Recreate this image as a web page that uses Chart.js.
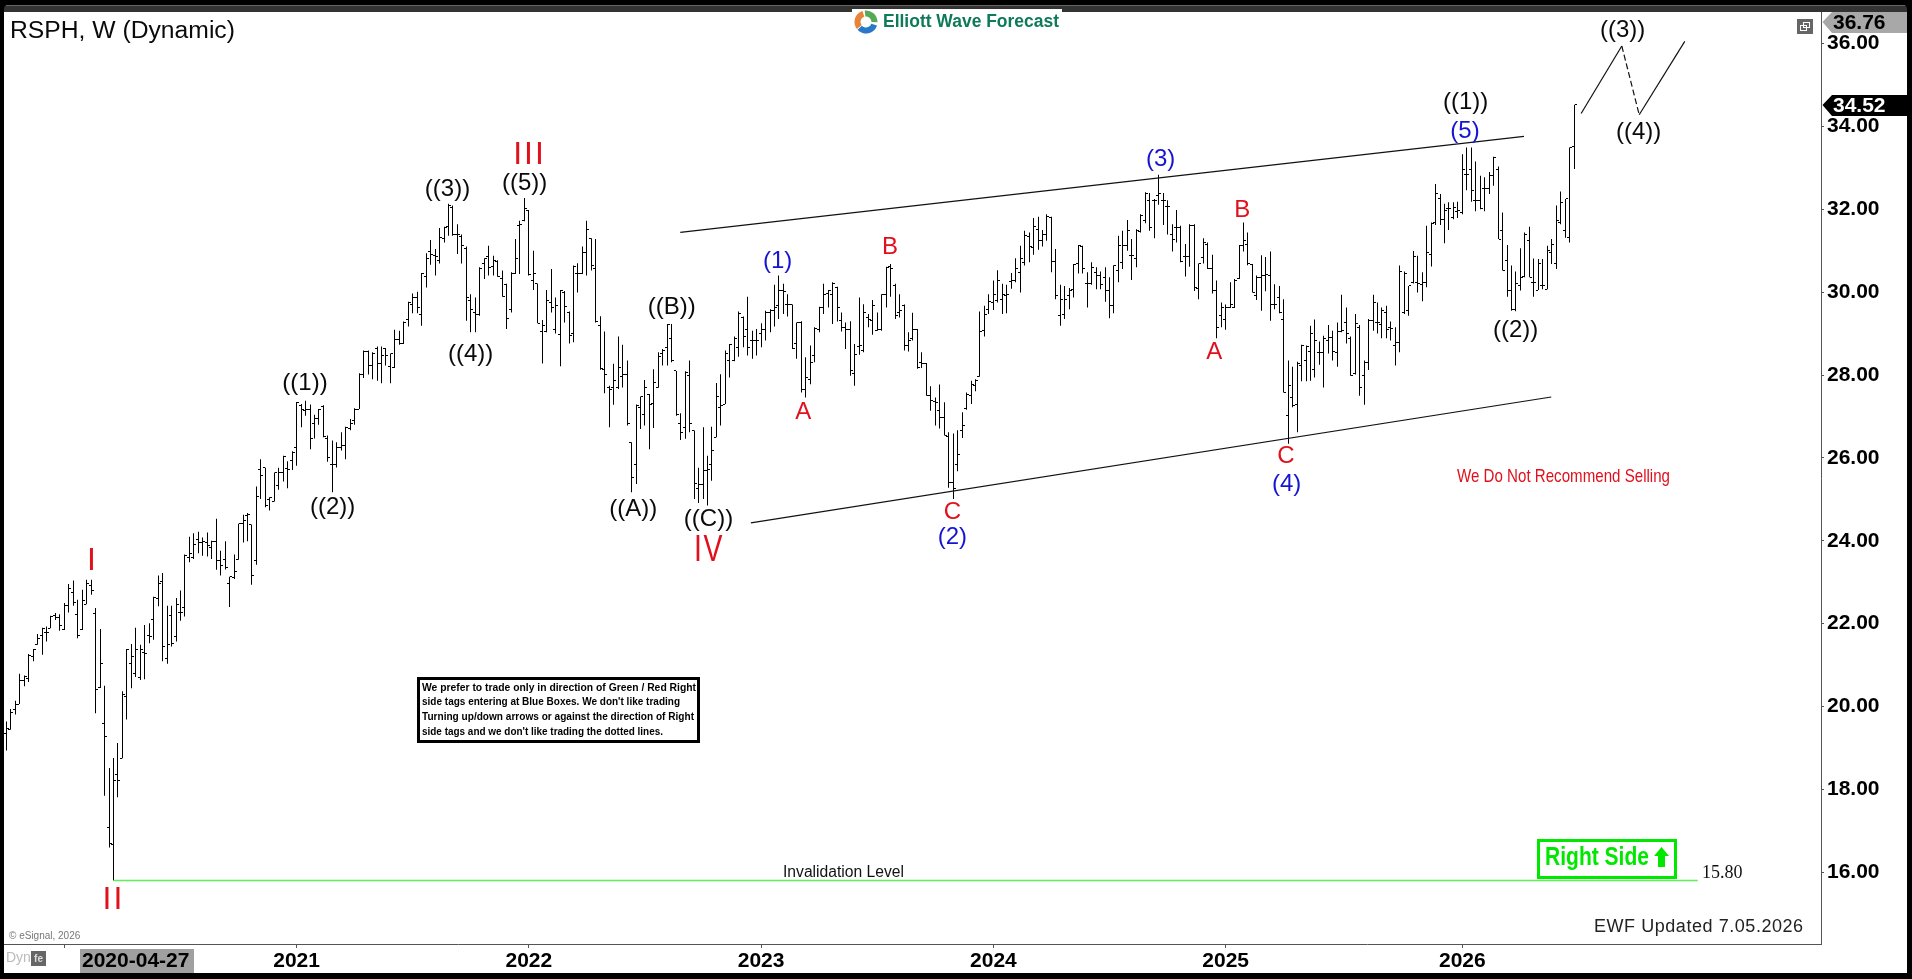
<!DOCTYPE html>
<html>
<head>
<meta charset="utf-8">
<title>RSPH, W (Dynamic)</title>
<script src="https://cdn.jsdelivr.net/npm/chart.js@4/dist/chart.umd.min.js"></script>
<style>
html,body{margin:0;padding:0;background:#000;overflow:hidden}
canvas{display:block}
</style>
</head>
<body>
<canvas id="chart" width="1912" height="979"></canvas>
<script>
// Weekly RSPH bars, oldest first (one entry per week from 2019-09-30).
const highs = [19.64,19.94,20.14,20.79,20.75,21.27,21.39,21.75,21.9,21.93,
22.19,22.26,22.23,22.5,22.96,23.04,22.58,22.82,23.06,23.06,
22.38,21.87,20.5,18.52,18.76,19.12,20.37,21.39,21.51,21.9,
21.49,21.97,22.01,22.65,23.16,23.22,22.43,22.43,22.62,22.8,
23.67,24.1,24.18,24.22,24.08,24.2,24.0,24.53,23.76,23.99,
23.13,23.67,24.41,24.63,24.67,24.39,25.31,25.97,25.76,25.05,
25.65,25.76,26.05,25.92,26.16,27.35,27.3,27.38,27.29,27.04,
27.18,27.27,26.54,26.42,26.38,26.62,26.75,26.94,27.2,28.04,
28.59,28.59,28.55,28.69,28.69,28.65,28.52,29.09,29.07,29.29,
29.77,29.97,30.01,30.46,30.94,31.26,31.04,31.55,31.58,32.13,
32.09,31.64,31.39,31.1,29.95,29.87,30.6,30.82,31.12,30.88,
30.77,30.52,30.2,30.48,31.28,31.72,32.27,31.98,31.0,30.21,
29.33,30.05,30.56,29.87,30.05,30.03,29.53,30.64,30.7,31.1,
31.72,31.3,31.28,29.42,29.05,27.74,28.27,28.93,28.73,28.35,
26.38,27.29,27.48,27.88,27.54,28.14,28.55,28.63,29.23,29.23,
28.1,27.08,28.09,28.35,26.66,25.76,26.74,26.05,26.75,27.81,
28.02,28.59,28.75,28.93,29.53,29.41,29.89,29.07,29.11,29.25,
29.55,29.59,30.18,30.4,30.2,29.95,29.7,29.27,29.3,28.43,
28.71,29.15,29.65,30.2,30.05,30.24,30.13,29.51,29.27,29.3,
28.75,29.87,29.71,29.47,29.81,29.51,29.95,30.61,30.68,30.2,
29.95,29.7,29.03,29.5,29.11,28.55,28.29,27.73,27.46,27.77,
27.34,26.62,26.59,26.67,27.1,27.58,27.86,27.9,29.53,29.67,
29.95,30.28,30.53,30.2,30.18,30.46,30.82,31.12,31.48,31.44,
31.79,31.82,31.5,31.88,31.82,31.04,30.18,30.15,30.1,30.68,
31.14,31.12,30.48,30.72,30.6,30.5,30.6,30.36,30.65,31.36,
31.48,31.74,31.28,31.52,31.88,32.41,32.39,32.25,32.83,32.39,
32.22,31.64,31.98,31.6,31.16,31.64,31.64,30.69,31.3,31.2,
30.9,30.28,29.75,29.7,30.24,30.32,31.14,31.68,31.44,30.68,
30.4,30.89,30.85,30.98,30.19,30.15,29.83,28.35,28.2,28.32,
28.73,28.71,29.19,29.34,28.81,28.95,29.21,29.07,29.27,29.94,
29.63,28.93,29.47,29.21,28.35,29.35,29.94,29.75,29.63,29.67,
29.29,29.15,30.64,30.5,30.15,30.99,30.88,30.48,31.6,31.68,
32.61,32.37,32.13,32.17,32.17,32.18,33.33,33.49,33.49,33.15,
32.81,32.77,32.9,33.27,33.03,31.92,31.14,30.64,30.5,31.06,
31.44,31.58,30.81,30.8,30.8,31.12,31.28,32.09,32.43,32.25,
33.49,34.52];

const lows = [18.94,19.44,19.81,20.06,20.49,20.59,21.09,21.49,21.25,21.57,
21.89,22.09,21.83,21.85,22.27,22.43,21.65,21.85,22.47,22.7,
19.84,20.45,17.85,16.6,15.8,17.81,18.75,19.69,20.44,20.71,
20.64,20.66,21.53,21.61,22.42,21.09,21.03,21.45,21.57,22.07,
22.17,23.48,23.56,23.7,23.64,23.62,23.56,23.3,23.16,23.31,
22.4,23.08,23.54,23.96,23.99,22.94,23.42,25.01,24.81,24.73,
24.95,25.23,25.43,25.27,25.71,25.81,26.74,27.02,26.21,26.47,
26.8,26.5,25.91,25.17,25.77,26.18,25.97,26.67,26.8,27.18,
27.93,28.01,27.9,27.86,27.8,28.23,27.8,28.17,28.73,28.75,
29.17,29.49,29.49,29.19,30.11,30.66,30.4,30.69,31.2,31.36,
31.36,30.92,30.69,29.31,29.03,29.03,29.43,30.32,30.4,30.4,
30.37,29.89,29.11,29.51,30.44,30.44,31.71,30.4,30.05,29.25,
28.28,29.03,29.51,29.0,28.21,29.27,28.76,28.79,29.99,30.44,
30.4,30.52,29.27,28.13,27.56,26.74,27.28,27.66,27.7,26.78,
25.17,25.37,26.7,26.78,26.21,26.72,27.69,28.23,28.23,28.31,
27.02,26.43,26.46,26.62,25.01,24.91,25.01,24.85,25.45,26.5,
26.78,27.3,27.94,28.33,28.44,28.67,28.47,28.39,28.47,28.67,
28.83,29.03,29.17,29.35,29.47,29.41,28.63,28.39,27.58,27.46,
27.78,28.31,29.03,29.47,29.63,29.23,29.29,29.05,28.63,27.98,
27.74,28.49,28.55,29.15,28.97,29.07,29.07,29.63,29.89,29.35,
29.39,28.59,28.57,28.83,28.15,28.17,27.5,27.14,26.78,26.71,
26.54,25.28,25.01,25.68,26.48,27.16,27.3,27.61,27.96,28.93,
29.47,29.57,29.75,29.47,29.49,30.08,30.24,29.99,30.64,30.72,
30.9,31.02,31.1,31.24,30.48,29.83,29.19,29.35,29.59,29.87,
30.45,30.45,29.63,30.18,30.07,30.07,29.77,29.37,29.49,30.24,
30.56,31.0,30.29,30.6,31.44,31.66,31.48,31.3,32.11,31.62,
31.39,30.98,31.2,30.72,30.38,30.61,30.03,29.83,30.69,30.56,
29.97,28.89,29.15,29.09,29.62,29.62,30.32,30.98,30.65,29.99,
29.81,29.55,30.02,29.31,29.59,29.49,27.58,26.34,27.22,26.62,
27.85,27.85,27.86,27.94,28.25,27.7,28.52,28.35,28.2,29.03,
28.76,27.98,28.01,27.5,27.28,28.12,29.07,29.0,28.89,28.89,
28.83,28.23,28.55,29.47,29.43,30.21,29.99,29.78,30.12,30.62,
31.62,31.62,31.18,31.5,31.76,31.79,31.88,32.46,32.18,31.95,
32.0,31.95,32.37,32.57,31.28,30.52,29.89,29.55,29.54,30.04,
30.36,30.36,29.89,30.05,30.07,30.07,30.68,30.56,31.64,31.31,
31.2,32.97];

const opens = [19.36,19.44,19.93,20.06,20.64,20.67,21.21,21.49,21.71,21.78,
21.89,22.19,22.15,21.85,22.44,22.76,22.22,21.85,22.47,22.92,
22.25,20.46,19.58,17.07,16.66,18.35,18.75,20.24,21.03,20.79,
20.69,21.31,21.71,22.11,22.6,23.01,21.15,22.19,21.69,22.26,
22.38,23.6,23.6,24.04,23.96,23.96,23.84,23.99,23.52,23.56,
22.97,23.12,23.54,24.41,24.61,24.39,23.52,25.73,25.76,24.99,
24.95,25.33,25.65,25.75,25.93,26.24,27.26,27.14,27.18,26.82,
26.94,27.24,26.46,25.85,25.84,26.26,26.3,26.7,26.9,27.18,
28.02,28.57,28.23,28.63,28.29,28.63,28.2,28.19,28.85,28.77,
29.35,29.71,29.86,29.46,30.37,30.98,30.88,30.76,31.3,31.58,
32.05,31.39,31.34,31.06,29.79,29.5,29.47,30.68,30.85,30.61,
30.74,30.34,30.18,29.57,30.45,31.6,31.74,31.97,30.27,30.21,
29.05,29.05,29.75,29.11,28.97,29.99,29.51,28.99,30.44,30.44,
30.96,31.3,30.56,29.2,28.13,27.69,27.7,27.7,27.96,28.01,
26.37,25.85,27.22,27.04,27.54,27.32,27.7,28.51,28.67,28.87,
28.1,26.83,26.74,28.0,26.66,25.25,25.37,25.69,25.85,26.5,
27.22,27.3,28.35,28.35,28.67,29.38,29.11,28.83,28.83,29.0,
29.09,29.52,29.55,29.67,30.03,29.7,29.7,28.75,29.27,27.64,
27.9,28.47,29.09,29.63,29.97,29.95,30.1,29.31,29.15,29.09,
28.03,28.68,28.59,29.39,29.31,29.07,29.09,29.95,30.61,30.15,
29.51,29.67,28.71,28.87,29.11,28.31,28.27,27.5,27.37,27.14,
26.98,26.52,25.41,25.85,26.67,27.2,27.5,27.74,27.96,29.07,
29.57,29.75,29.79,29.83,29.91,30.26,30.28,30.48,30.72,31.34,
31.08,31.52,31.24,31.39,31.79,30.74,29.43,29.47,29.91,30.07,
30.69,31.1,30.2,30.2,30.48,30.4,30.36,30.03,29.67,30.53,
30.72,31.12,30.88,30.82,31.47,31.74,32.2,32.2,32.33,32.2,
32.06,31.39,31.56,31.56,30.85,30.85,31.6,30.08,30.84,31.16,
30.58,30.03,29.43,29.35,29.63,29.63,30.34,31.12,31.16,30.66,
29.91,30.36,30.4,30.41,29.71,29.87,29.33,27.02,27.46,27.3,
28.23,28.35,28.57,28.14,28.55,28.55,28.84,28.91,28.55,29.05,
29.27,28.87,28.03,29.15,27.99,28.3,29.31,29.27,29.23,29.51,
29.15,28.71,28.79,29.51,29.55,30.24,30.24,30.19,30.24,30.92,
31.68,32.25,31.76,32.03,31.8,31.95,31.92,32.85,32.97,32.22,
32.2,32.49,32.49,32.81,32.95,31.48,30.76,30.04,29.59,30.16,
30.37,31.24,30.24,30.05,30.16,30.07,30.96,30.68,31.68,31.48,
31.31,33.51];

const closes = [19.46,19.86,20.05,20.64,20.73,21.24,21.37,21.65,21.88,21.79,
22.17,22.15,21.95,22.44,22.86,22.52,21.71,22.57,22.96,22.81,
20.42,21.03,19.27,16.69,18.21,18.21,20.28,21.37,21.2,21.37,
21.37,21.28,21.69,22.64,22.97,21.45,21.49,21.53,22.46,22.27,
23.64,23.7,23.92,23.96,23.99,23.88,23.99,23.52,23.4,23.35,
23.13,23.26,24.41,24.5,24.63,23.16,25.07,25.57,24.85,25.05,
25.64,25.65,26.03,25.73,26.13,27.34,27.16,27.16,26.47,26.94,
27.18,26.51,26.0,25.85,26.26,26.3,26.74,26.83,27.18,28.02,
28.57,28.23,28.52,28.29,28.47,28.47,28.51,28.85,28.77,29.27,
29.75,29.86,29.62,30.44,30.8,30.92,30.85,31.32,31.55,32.08,
31.39,31.39,31.12,29.86,29.57,29.47,30.58,30.8,30.6,30.76,
30.37,29.89,29.37,30.45,30.8,31.63,32.03,30.42,30.45,29.25,
29.19,29.79,29.62,29.67,30.03,29.65,28.95,30.61,30.44,30.96,
31.52,30.64,29.29,28.15,28.01,27.66,27.87,28.17,28.01,26.82,
25.52,27.26,27.48,27.7,27.3,27.82,28.44,28.59,29.23,28.35,
27.04,26.62,28.06,26.82,25.39,25.37,25.69,25.73,26.18,27.48,
27.26,28.52,28.73,28.89,29.49,28.93,28.67,28.83,28.83,29.11,
29.52,29.55,29.64,30.05,30.02,29.7,28.65,29.27,27.66,27.93,
28.3,29.13,29.63,29.95,30.03,30.2,29.62,29.15,29.09,28.12,
28.49,28.71,29.51,29.35,29.67,29.09,29.94,30.6,30.56,29.43,
29.55,28.71,28.84,29.09,28.17,28.27,27.5,27.38,27.34,26.98,
26.54,25.41,25.25,26.08,26.78,27.54,27.78,27.87,29.04,29.46,
29.78,29.95,30.28,29.95,29.95,30.28,30.56,30.82,31.36,31.1,
31.58,31.24,31.38,31.82,30.74,29.91,29.83,29.83,30.03,30.66,
31.12,30.56,30.2,30.6,30.4,30.18,30.03,29.67,30.64,31.12,
31.12,31.48,30.88,31.48,31.84,32.37,31.55,32.22,32.37,32.2,
32.06,31.28,31.56,30.73,30.85,31.6,30.1,30.68,31.2,30.58,
30.05,29.15,29.63,29.63,29.71,30.29,31.12,31.24,30.68,30.0,
30.36,30.4,30.42,29.71,29.71,29.51,27.58,27.74,27.26,28.27,
28.71,28.68,28.99,28.83,28.55,28.87,28.91,28.57,29.05,29.07,
29.0,27.98,29.25,27.7,28.3,29.31,29.75,29.27,29.55,29.11,
29.13,28.79,30.5,30.44,30.15,30.86,30.21,30.24,30.96,31.66,
32.37,31.76,31.98,32.03,32.05,31.96,32.95,32.85,32.45,32.2,
32.03,32.49,32.81,33.24,31.28,30.52,30.04,29.57,30.2,30.36,
31.4,30.36,30.24,30.68,30.16,31.0,31.16,31.74,32.17,32.25,
33.49,34.52];

// Time axis: week index of each year's first bar, with its label.
const yearTickWeeks = [13,65,117,169,221,273,326];
const yearTickLabels = ['','2021','2022','2023','2024','2025','2026'];

// Price axis.
const priceTicks = [16,18,20,22,24,26,28,30,32,34,36];
const axisTopPrice = 36.76;
const axisBottomPrice = 14.27;
const lastPrice = 34.52;

// Channel around wave ((1)) of the advance: [week, price] end points.
const channelUpperWeeks = [150.9,339.8];
const channelUpperPrices = [31.44,33.76];
const channelLowerWeeks = [166.7,345.9];
const channelLowerPrices = [24.43,27.47];

// Projected path after the last bar.
const projectionWeeks = [352.6,361.7,365.6,375.8];
const projectionPrices = [34.31,35.94,34.28,36.05];

// Invalidation level running from the March 2020 low.
const invalidationPrice = 15.8;
const invalidationWeeks = [24,378.7];

const pairs = (xs, ys) => xs.map((x, i) => ({x, y: ys[i]}));

// One-pixel open (left) and close (right) ticks used as point images.
function tickImage(side) {
  const c = document.createElement('canvas');
  c.width = 5; c.height = 1;
  const g = c.getContext('2d');
  g.fillStyle = '#000';
  g.fillRect(side === 'left' ? 0 : 3, 0, 2, 1);
  return c;
}

const SANS = '"Liberation Sans", Arial, sans-serif';
const BLACK = '#0a0a0a', RED = '#e0101c', BLUE = '#1414d2', GREEN = '#00e800';

// Wave counts: text, colour, centre and font size.
const waveNotes = [
  ['((1))',BLACK,305,383.5,24],['((2))',BLACK,332.7,507.5,24],['((3))',BLACK,447.5,189,24],
  ['((4))',BLACK,470.7,354.3,24],['((5))',BLACK,524.7,183.5,24],['((A))',BLACK,633.3,509.3,24],
  ['((B))',BLACK,671.7,307.5,24],['((C))',BLACK,708.5,519.2,24],
  ['(1)',BLUE,777.7,261.5,24],['(2)',BLUE,952.4,537.5,24],['(3)',BLUE,1160.7,159.3,24],
  ['(4)',BLUE,1286.7,484.3,24],['(5)',BLUE,1465,131,24],
  ['A',RED,803.3,412.7,24],['B',RED,890,247,24],['C',RED,952.3,512.7,24],
  ['A',RED,1214.3,352.7,24],['B',RED,1242.3,210,24],['C',RED,1286,456.7,24],
  ['((1))',BLACK,1465.7,102.5,24],['((2))',BLACK,1515.7,330.3,24],
  ['((3))',BLACK,1622.7,30.5,24],['((4))',BLACK,1638.7,132.7,24]
];
// Roman degree labels: text, centre, font size, widest allowed.
const romanNotes = [['I',91.5,561,32,0],['II',112.5,900,32,0],['III',528.5,155,32,0],['IV',708,551.5,36,30]];
const disclaimer = [
  ['We prefer to trade only in direction of Green / Red Right',274],
  ["side tags entering at Blue Boxes. We don't like trading",258],
  ['Turning up/down arrows or against the direction of Right',272],
  ["side tags and we don't like trading the dotted lines.",241]
];

function put(ctx, text, x, y, font, color, align, maxW) {
  ctx.font = font; ctx.fillStyle = color; ctx.textAlign = align || 'left'; ctx.textBaseline = 'middle';
  if (maxW) ctx.fillText(text, x, y, maxW); else ctx.fillText(text, x, y);
}

// Window frame, drawn under the plot.
const framePlugin = {
  id: 'frame',
  beforeDraw(chart) {
    const ctx = chart.ctx;
    ctx.save();
    ctx.fillStyle = '#000'; ctx.fillRect(0, 0, 1912, 979);
    ctx.fillStyle = '#333'; ctx.beginPath(); ctx.roundRect(4, 5, 1903, 20, 4); ctx.fill();
    ctx.fillStyle = '#666'; ctx.fillRect(6, 5, 1899, 1);
    ctx.fillStyle = '#fff'; ctx.fillRect(4, 12, 1903, 961);
    ctx.fillRect(852, 9, 210, 4);
    ctx.restore();
  }
};

// Keep bars and their ticks on whole pixels so they stay crisp.
const snapPlugin = {
  id: 'snap',
  afterDatasetsUpdate(chart) {
    chart.data.datasets.forEach((ds, i) => {
      if (!ds.snap) return;
      chart.getDatasetMeta(i).data.forEach(el => {
        el.x = Math.floor(el.x) + 0.5;
        if (ds.type === 'bar') el.width = 1; else el.y = Math.floor(el.y) + 0.5;
      });
    });
  }
};

// Everything written on the chart: labels, side tags, price flags, status bar.
const notesPlugin = {
  id: 'notes',
  afterDraw(chart) {
    const ctx = chart.ctx;
    const yPx = chart.scales.y;
    ctx.save();

    put(ctx, 'RSPH, W (Dynamic)', 10, 31.5, '24.7px ' + SANS, BLACK);

    waveNotes.forEach(n => put(ctx, n[0], n[2], n[3], n[4] + 'px ' + SANS, n[1], 'center'));
    ctx.letterSpacing = '2px';
    romanNotes.forEach(n => put(ctx, n[0], n[1] + 1, n[2], n[3] + 'px ' + SANS, RED, 'center', n[4]));
    ctx.letterSpacing = '0px';

    put(ctx, 'We Do Not Recommend Selling', 1457, 476.5, '19px ' + SANS, RED, 'left', 213);
    put(ctx, 'Invalidation Level', 783, 873, '16px ' + SANS, '#111', 'left', 121);
    put(ctx, '15.80', 1702, 873, '18px "Liberation Serif", serif', '#111');

    // Trading note
    ctx.fillStyle = '#fff'; ctx.fillRect(417, 677, 283, 66);
    ctx.strokeStyle = '#000'; ctx.lineWidth = 3; ctx.strokeRect(418.5, 678.5, 280, 63);
    disclaimer.forEach((l, i) => put(ctx, l[0], 422, 687.5 + i * 14.7, 'bold 11px ' + SANS, '#000', 'left', l[1]));

    // Right-side tag
    ctx.strokeStyle = GREEN; ctx.lineWidth = 3; ctx.strokeRect(1538.5, 840.5, 137, 37);
    put(ctx, 'Right Side', 1545, 858, 'bold 26px ' + SANS, GREEN, 'left', 104);
    ctx.fillStyle = GREEN; ctx.beginPath();
    ctx.moveTo(1661.5, 847); ctx.lineTo(1669, 856); ctx.lineTo(1665, 856); ctx.lineTo(1665, 867);
    ctx.lineTo(1658, 867); ctx.lineTo(1658, 856); ctx.lineTo(1654, 856); ctx.closePath(); ctx.fill();

    ctx.letterSpacing = '0.55px';
    put(ctx, 'EWF Updated 7.05.2026', 1594, 927, '18px ' + SANS, '#222');
    ctx.letterSpacing = '0px';
    put(ctx, '\u00a9 eSignal, 2026', 9, 936, '10px ' + SANS, '#777');

    // Price flags on the right axis
    const flag = (cy, top, h, fill, ink, text) => {
      ctx.fillStyle = fill; ctx.beginPath();
      ctx.moveTo(1822.5, cy); ctx.lineTo(1832, top); ctx.lineTo(1907, top);
      ctx.lineTo(1907, top + h); ctx.lineTo(1832, top + h); ctx.closePath(); ctx.fill();
      put(ctx, text, 1833, top + h / 2 + 0.5, 'bold 21px ' + SANS, ink);
    };
    flag(22, 12, 21, '#a8a8a8', '#000', axisTopPrice.toFixed(2));
    flag(Math.round(yPx.getPixelForValue(lastPrice)), 95, 21, '#000', '#fff', lastPrice.toFixed(2));

    // Window icon
    ctx.fillStyle = '#666'; ctx.fillRect(1797, 19, 16, 15);
    ctx.strokeStyle = '#fff'; ctx.lineWidth = 1;
    ctx.strokeRect(1803.5, 22.5, 6, 5); ctx.strokeRect(1800.5, 25.5, 6, 5);

    // Cursor date on the time axis
    ctx.fillStyle = '#a0a0a0'; ctx.fillRect(80, 949, 114, 24);
    put(ctx, '2020-04-27', 82, 961, 'bold 21px ' + SANS, '#000');

    // Status corner
    put(ctx, 'Dyn', 6, 958, '14px ' + SANS, '#bbb');
    ctx.fillStyle = '#666'; ctx.fillRect(31, 951, 15, 15);
    put(ctx, 'fe', 38.5, 959, 'bold 10px ' + SANS, '#ddd', 'center');

    // Brand mark and name
    const arcs = [['#e8843a', 2.5, 4.4], ['#58a858', 4.6, 6.3], ['#2a78c8', 0.3, 2.4]];
    ctx.lineWidth = 6;
    arcs.forEach(a => { ctx.strokeStyle = a[0]; ctx.beginPath(); ctx.arc(866, 22, 8.5, a[1], a[2]); ctx.stroke(); });
    put(ctx, 'Elliott Wave Forecast', 883, 22, 'bold 18px ' + SANS, '#0f7a5a', 'left', 176);

    ctx.restore();
  }
};

const yearLabelFor = v => yearTickLabels[yearTickWeeks.indexOf(v)] || '';

new Chart(document.getElementById('chart'), {
  type: 'bar',
  data: {
    datasets: [
      { type: 'bar', snap: true, order: 5, inflateAmount: 0, barThickness: 1, backgroundColor: '#000', borderWidth: 0,
        data: highs.map((h, i) => ({x: i, y: [lows[i], h]})) },
      { type: 'line', snap: true, order: 4, showLine: false, pointStyle: tickImage('left'), pointRadius: 2, pointHoverRadius: 2,
        data: opens.map((v, i) => ({x: i, y: v})) },
      { type: 'line', snap: true, order: 4, showLine: false, pointStyle: tickImage('right'), pointRadius: 2, pointHoverRadius: 2,
        data: closes.map((v, i) => ({x: i, y: v})) },
      { type: 'line', order: 3, borderColor: '#111', borderWidth: 1.2, pointRadius: 0, data: pairs(channelUpperWeeks, channelUpperPrices) },
      { type: 'line', order: 3, borderColor: '#111', borderWidth: 1.2, pointRadius: 0, data: pairs(channelLowerWeeks, channelLowerPrices) },
      { type: 'line', order: 3, borderColor: '#111', borderWidth: 1.2, pointRadius: 0, data: pairs(projectionWeeks.slice(0, 2), projectionPrices.slice(0, 2)) },
      { type: 'line', order: 3, borderColor: '#111', borderWidth: 1.2, borderDash: [6, 3], pointRadius: 0, data: pairs(projectionWeeks.slice(1, 3), projectionPrices.slice(1, 3)) },
      { type: 'line', order: 3, borderColor: '#111', borderWidth: 1.2, pointRadius: 0, data: pairs(projectionWeeks.slice(2, 4), projectionPrices.slice(2, 4)) },
      { type: 'line', order: 2, borderColor: '#5cf25c', borderWidth: 1.5, pointRadius: 0,
        data: pairs(invalidationWeeks, invalidationWeeks.map(() => invalidationPrice)) }
    ]
  },
  options: {
    responsive: false,
    animation: false,
    events: [],
    layout: { padding: { left: 4, top: 12, right: 0, bottom: 0 } },
    plugins: { legend: { display: false }, tooltip: { enabled: false }, title: { display: false } },
    scales: {
      x: {
        type: 'linear', offset: false, min: -0.515, max: 406.3,
        grid: { offset: false, drawOnChartArea: false, drawTicks: true, tickLength: 4, tickColor: '#555' },
        border: { display: true, color: '#555', width: 1 },
        afterFit(s) { s.height = 35; s.paddingLeft = 0; s.paddingRight = 0; },
        afterBuildTicks(s) { s.ticks = yearTickWeeks.map(value => ({value})); },
        ticks: { autoSkip: false, maxRotation: 0, padding: 1, color: '#000', font: { family: SANS, size: 21, weight: 'bold' },
          callback: yearLabelFor }
      },
      y: {
        position: 'right', min: axisBottomPrice, max: axisTopPrice,
        grid: { drawOnChartArea: false, drawTicks: true, tickLength: 3, tickColor: '#555' },
        border: { display: true, color: '#555', width: 1 },
        afterFit(s) { s.width = 91; s.paddingTop = 0; s.paddingBottom = 0; },
        afterBuildTicks(s) { s.ticks = priceTicks.map(value => ({value})); },
        ticks: { padding: 3, color: '#000', font: { family: SANS, size: 21, weight: 'bold' },
          callback: v => v.toFixed(2) }
      }
    }
  },
  plugins: [framePlugin, snapPlugin, notesPlugin]
});
</script>
</body>
</html>
